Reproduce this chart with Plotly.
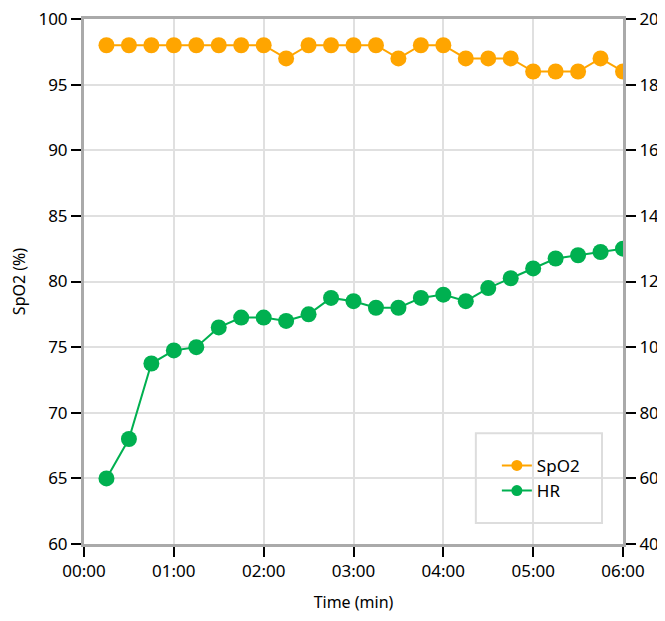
import plotly.graph_objects as go

time_min = [0.25, 0.5, 0.75, 1.0, 1.25, 1.5, 1.75, 2.0, 2.25, 2.5, 2.75, 3.0,
            3.25, 3.5, 3.75, 4.0, 4.25, 4.5, 4.75, 5.0, 5.25, 5.5, 5.75, 6.0]
spo2 = [98, 98, 98, 98, 98, 98, 98, 98, 97, 98, 98, 98,
        98, 97, 98, 98, 97, 97, 97, 96, 96, 96, 97, 96]
hr = [60, 72, 95, 99, 100, 106, 109, 109, 108, 110, 115, 114,
      112, 112, 115, 116, 114, 118, 121, 124, 127, 128, 129, 130]
x_tickvals = [0, 1, 2, 3, 4, 5, 6]
x_ticktext = ["00:00", "01:00", "02:00", "03:00", "04:00", "05:00", "06:00"]

ORANGE = "#FFA500"
GREEN = "#00B050"
FONT = "Noto Sans"

fig = go.Figure()
fig.add_trace(go.Scatter(x=time_min, y=spo2, name="SpO2", mode="lines+markers",
                         line=dict(color=ORANGE, width=2), legendgroup="spo2",
                         showlegend=False,
                         marker=dict(color=ORANGE, size=16), yaxis="y"))
fig.add_trace(go.Scatter(x=time_min, y=hr, name="HR", mode="lines+markers",
                         line=dict(color=GREEN, width=2), legendgroup="hr",
                         showlegend=False,
                         marker=dict(color=GREEN, size=16), yaxis="y2"))
# legend entries (smaller symbol, as in the reference legend)
fig.add_trace(go.Scatter(x=[None], y=[None], name="SpO2", mode="lines+markers",
                         line=dict(color=ORANGE, width=2), legendgroup="spo2",
                         marker=dict(color=ORANGE, size=11), yaxis="y"))
fig.add_trace(go.Scatter(x=[None], y=[None], name="HR", mode="lines+markers",
                         line=dict(color=GREEN, width=2), legendgroup="hr",
                         marker=dict(color=GREEN, size=11), yaxis="y2"))

axis_common = dict(showline=True, linecolor="#AAAAAA", linewidth=3,
                   ticks="outside", ticklen=10, tickwidth=2, tickcolor="#000",
                   tickfont=dict(family=FONT, size=17, color="#000"),
                   ticklabeloverflow="allow",
                   zeroline=False, automargin=False)

# page body adds an 8px margin; figure sized/offset so the plot lands where the reference has it
fig.update_layout(
    width=657, height=605,
    margin=dict(l=76, r=42, t=11, b=69, autoexpand=False),
    paper_bgcolor="white", plot_bgcolor="white",
    font=dict(family=FONT, size=16, color="#000"),
    showlegend=True,
    xaxis=dict(range=[0, 6], tickvals=x_tickvals, ticktext=x_ticktext,
               showgrid=True, gridcolor="#E0E0E0", gridwidth=2, mirror=True,
               title=dict(text="Time (min)", font=dict(family=FONT, size=16), standoff=23),
               **axis_common),
    yaxis=dict(range=[60, 100], dtick=5, showgrid=True, gridcolor="#E0E0E0",
               gridwidth=2, mirror=True,
               title=dict(text="SpO2 (%)", font=dict(family=FONT, size=16), standoff=22),
               **axis_common),
    yaxis2=dict(range=[40, 200], dtick=20, overlaying="y", side="right",
                showgrid=False, **axis_common),
    legend=dict(x=0.766, y=0.183, xanchor="left", yanchor="top",
                bgcolor="rgba(0,0,0,0)", borderwidth=0, tracegroupgap=0,
                font=dict(family=FONT, size=17, color="#000")),
    shapes=[dict(type="rect", xref="paper", yref="paper",
                 x0=0.727, x1=0.961, y0=0.040, y1=0.211,
                 line=dict(color="#DDDDDD", width=2), fillcolor="rgba(0,0,0,0)",
                 layer="above")],
)

fig.write_html("out.html")
